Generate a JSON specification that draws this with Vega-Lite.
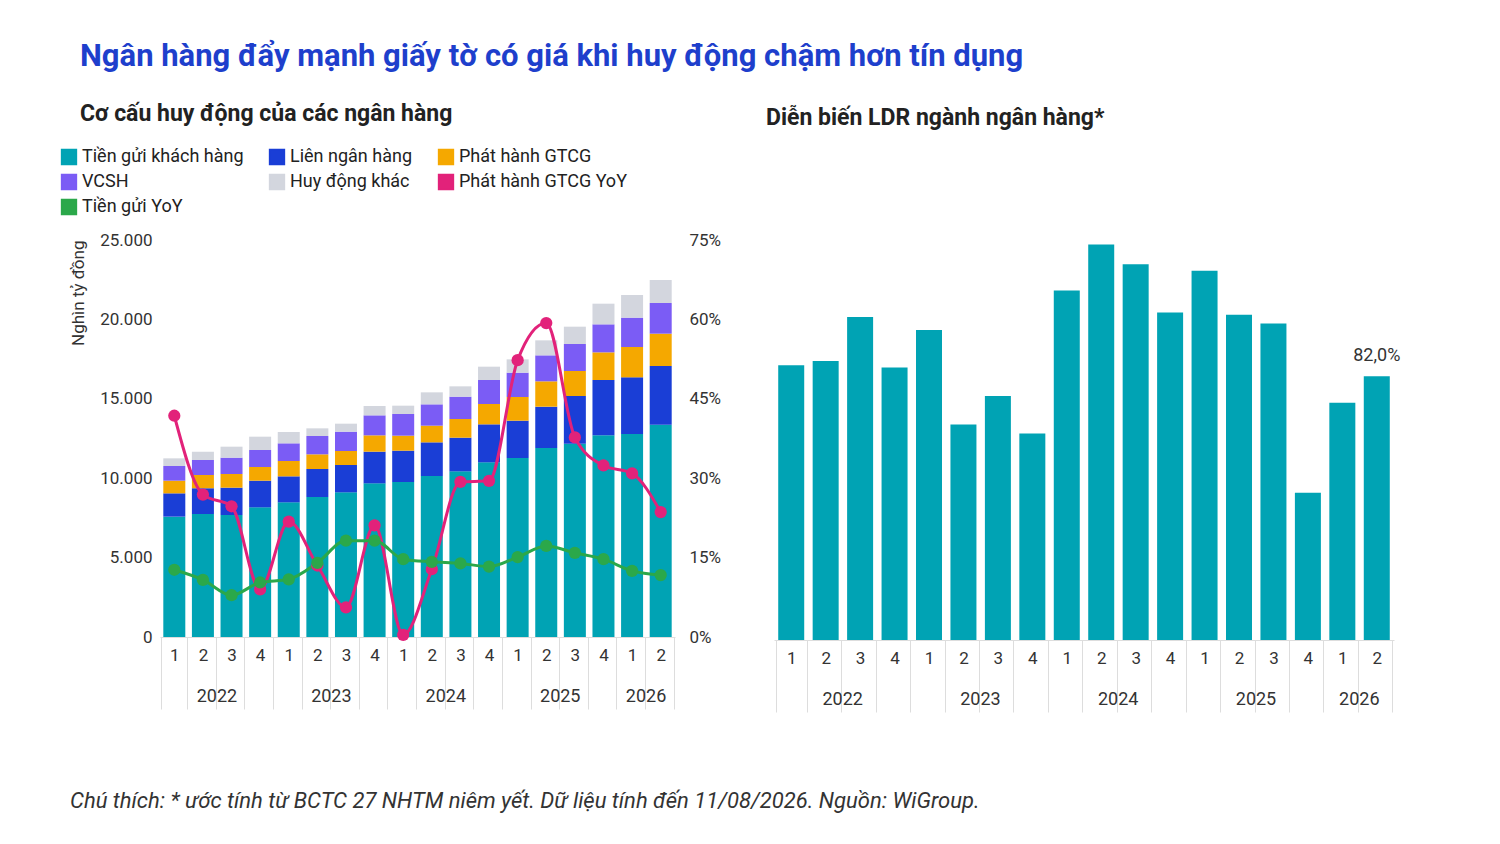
{
"$schema":"https://vega.github.io/schema/vega-lite/v6.json",
"background":"white",
"padding":{"left":60,"top":41,"right":10,"bottom":5},
"config":{"font":"Roboto","view":{"stroke":null},"axis":{"labelFont":"Roboto","titleFont":"Roboto","labelColor":"#333","labelFontSize":17,"grid":false},"legend":{"labelFont":"Roboto"}},
"title":{"text":"Ngân hàng đẩy mạnh giấy tờ có giá khi huy động chậm hơn tín dụng","anchor":"start","fontSize":31,"fontWeight":"bold","color":"#1E3FCC","offset":30,"dx":20},
"datasets":{
"stack":[
{"q":"2022-1","s":"Tiền gửi khách hàng","v":7578},{"q":"2022-1","s":"Liên ngân hàng","v":1469},{"q":"2022-1","s":"Phát hành GTCG","v":797},{"q":"2022-1","s":"VCSH","v":924},{"q":"2022-1","s":"Huy động khác","v":483},
{"q":"2022-2","s":"Tiền gửi khách hàng","v":7745},{"q":"2022-2","s":"Liên ngân hàng","v":1617},{"q":"2022-2","s":"Phát hành GTCG","v":839},{"q":"2022-2","s":"VCSH","v":945},{"q":"2022-2","s":"Huy động khác","v":524},
{"q":"2022-3","s":"Tiền gửi khách hàng","v":7682},{"q":"2022-3","s":"Liên ngân hàng","v":1722},{"q":"2022-3","s":"Phát hành GTCG","v":860},{"q":"2022-3","s":"VCSH","v":1029},{"q":"2022-3","s":"Huy động khác","v":692},
{"q":"2022-4","s":"Tiền gửi khách hàng","v":8165},{"q":"2022-4","s":"Liên ngân hàng","v":1679},{"q":"2022-4","s":"Phát hành GTCG","v":861},{"q":"2022-4","s":"VCSH","v":1070},{"q":"2022-4","s":"Huy động khác","v":840},
{"q":"2023-1","s":"Tiền gửi khách hàng","v":8480},{"q":"2023-1","s":"Liên ngân hàng","v":1637},{"q":"2023-1","s":"Phát hành GTCG","v":966},{"q":"2023-1","s":"VCSH","v":1113},{"q":"2023-1","s":"Huy động khác","v":713},
{"q":"2023-2","s":"Tiền gửi khách hàng","v":8816},{"q":"2023-2","s":"Liên ngân hàng","v":1763},{"q":"2023-2","s":"Phát hành GTCG","v":924},{"q":"2023-2","s":"VCSH","v":1154},{"q":"2023-2","s":"Huy động khác","v":483},
{"q":"2023-3","s":"Tiền gửi khách hàng","v":9110},{"q":"2023-3","s":"Liên ngân hàng","v":1721},{"q":"2023-3","s":"Phát hành GTCG","v":882},{"q":"2023-3","s":"VCSH","v":1217},{"q":"2023-3","s":"Huy động khác","v":504},
{"q":"2023-4","s":"Tiền gửi khách hàng","v":9676},{"q":"2023-4","s":"Liên ngân hàng","v":1995},{"q":"2023-4","s":"Phát hành GTCG","v":1028},{"q":"2023-4","s":"VCSH","v":1259},{"q":"2023-4","s":"Huy động khác","v":588},
{"q":"2024-1","s":"Tiền gửi khách hàng","v":9760},{"q":"2024-1","s":"Liên ngân hàng","v":1974},{"q":"2024-1","s":"Phát hành GTCG","v":944},{"q":"2024-1","s":"VCSH","v":1364},{"q":"2024-1","s":"Huy động khác","v":525},
{"q":"2024-2","s":"Tiền gửi khách hàng","v":10138},{"q":"2024-2","s":"Liên ngân hàng","v":2120},{"q":"2024-2","s":"Phát hành GTCG","v":1050},{"q":"2024-2","s":"VCSH","v":1343},{"q":"2024-2","s":"Huy động khác","v":756},
{"q":"2024-3","s":"Tiền gửi khách hàng","v":10432},{"q":"2024-3","s":"Liên ngân hàng","v":2120},{"q":"2024-3","s":"Phát hành GTCG","v":1176},{"q":"2024-3","s":"VCSH","v":1406},{"q":"2024-3","s":"Huy động khác","v":651},
{"q":"2024-4","s":"Tiền gửi khách hàng","v":10999},{"q":"2024-4","s":"Liên ngân hàng","v":2393},{"q":"2024-4","s":"Phát hành GTCG","v":1280},{"q":"2024-4","s":"VCSH","v":1511},{"q":"2024-4","s":"Huy động khác","v":840},
{"q":"2025-1","s":"Tiền gửi khách hàng","v":11272},{"q":"2025-1","s":"Liên ngân hàng","v":2351},{"q":"2025-1","s":"Phát hành GTCG","v":1490},{"q":"2025-1","s":"VCSH","v":1532},{"q":"2025-1","s":"Huy động khác","v":840},
{"q":"2025-2","s":"Tiền gửi khách hàng","v":11901},{"q":"2025-2","s":"Liên ngân hàng","v":2603},{"q":"2025-2","s":"Phát hành GTCG","v":1596},{"q":"2025-2","s":"VCSH","v":1636},{"q":"2025-2","s":"Huy động khác","v":945},
{"q":"2025-3","s":"Tiền gửi khách hàng","v":12174},{"q":"2025-3","s":"Liên ngân hàng","v":3002},{"q":"2025-3","s":"Phát hành GTCG","v":1574},{"q":"2025-3","s":"VCSH","v":1700},{"q":"2025-3","s":"Huy động khác","v":1092},
{"q":"2025-4","s":"Tiền gửi khách hàng","v":12699},{"q":"2025-4","s":"Liên ngân hàng","v":3484},{"q":"2025-4","s":"Phát hành GTCG","v":1742},{"q":"2025-4","s":"VCSH","v":1764},{"q":"2025-4","s":"Huy động khác","v":1301},
{"q":"2026-1","s":"Tiền gửi khách hàng","v":12783},{"q":"2026-1","s":"Liên ngân hàng","v":3568},{"q":"2026-1","s":"Phát hành GTCG","v":1910},{"q":"2026-1","s":"VCSH","v":1848},{"q":"2026-1","s":"Huy động khác","v":1427},
{"q":"2026-2","s":"Tiền gửi khách hàng","v":13371},{"q":"2026-2","s":"Liên ngân hàng","v":3694},{"q":"2026-2","s":"Phát hành GTCG","v":2036},{"q":"2026-2","s":"VCSH","v":1931},{"q":"2026-2","s":"Huy động khác","v":1449}
],
"yoy":[
{"q":"2022-1","s":"Phát hành GTCG YoY","v":41.8},{"q":"2022-2","s":"Phát hành GTCG YoY","v":26.9},{"q":"2022-3","s":"Phát hành GTCG YoY","v":24.7},{"q":"2022-4","s":"Phát hành GTCG YoY","v":9.0},{"q":"2023-1","s":"Phát hành GTCG YoY","v":21.8},{"q":"2023-2","s":"Phát hành GTCG YoY","v":13.5},{"q":"2023-3","s":"Phát hành GTCG YoY","v":5.6},{"q":"2023-4","s":"Phát hành GTCG YoY","v":21.1},{"q":"2024-1","s":"Phát hành GTCG YoY","v":0.4},{"q":"2024-2","s":"Phát hành GTCG YoY","v":12.8},{"q":"2024-3","s":"Phát hành GTCG YoY","v":29.3},{"q":"2024-4","s":"Phát hành GTCG YoY","v":29.5},{"q":"2025-1","s":"Phát hành GTCG YoY","v":52.3},{"q":"2025-2","s":"Phát hành GTCG YoY","v":59.3},{"q":"2025-3","s":"Phát hành GTCG YoY","v":37.7},{"q":"2025-4","s":"Phát hành GTCG YoY","v":32.4},{"q":"2026-1","s":"Phát hành GTCG YoY","v":30.9},{"q":"2026-2","s":"Phát hành GTCG YoY","v":23.6},
{"q":"2022-1","s":"Tiền gửi YoY","v":12.7},{"q":"2022-2","s":"Tiền gửi YoY","v":10.8},{"q":"2022-3","s":"Tiền gửi YoY","v":7.9},{"q":"2022-4","s":"Tiền gửi YoY","v":10.3},{"q":"2023-1","s":"Tiền gửi YoY","v":10.9},{"q":"2023-2","s":"Tiền gửi YoY","v":14.0},{"q":"2023-3","s":"Tiền gửi YoY","v":18.2},{"q":"2023-4","s":"Tiền gửi YoY","v":18.2},{"q":"2024-1","s":"Tiền gửi YoY","v":14.7},{"q":"2024-2","s":"Tiền gửi YoY","v":14.2},{"q":"2024-3","s":"Tiền gửi YoY","v":13.9},{"q":"2024-4","s":"Tiền gửi YoY","v":13.3},{"q":"2025-1","s":"Tiền gửi YoY","v":15.1},{"q":"2025-2","s":"Tiền gửi YoY","v":17.2},{"q":"2025-3","s":"Tiền gửi YoY","v":15.9},{"q":"2025-4","s":"Tiền gửi YoY","v":14.7},{"q":"2026-1","s":"Tiền gửi YoY","v":12.5},{"q":"2026-2","s":"Tiền gửi YoY","v":11.7}
],
"ldr":[
{"q":"2022-1","v":82.5},{"q":"2022-2","v":82.7},{"q":"2022-3","v":84.7},{"q":"2022-4","v":82.4},{"q":"2023-1","v":84.1},{"q":"2023-2","v":79.8},{"q":"2023-3","v":81.1},{"q":"2023-4","v":79.4},{"q":"2024-1","v":85.9},{"q":"2024-2","v":88.0},{"q":"2024-3","v":87.1},{"q":"2024-4","v":84.9},{"q":"2025-1","v":86.8},{"q":"2025-2","v":84.8},{"q":"2025-3","v":84.4},{"q":"2025-4","v":76.7},{"q":"2026-1","v":80.8},{"q":"2026-2","v":82.0,"label":"82,0%"}
],
"years":[{"q":"2022-2","year":"2022"},{"q":"2023-2","year":"2023"},{"q":"2024-2","year":"2024"},{"q":"2025-2","year":"2025"},{"q":"2026-1","year":"2026"}]
},
"vconcat":[{
"title":{"text":"Chú thích: * ước tính từ BCTC 27 NHTM niêm yết. Dữ liệu tính đến 11/08/2026. Nguồn: WiGroup.","orient":"bottom","anchor":"start","fontSize":22,"fontStyle":"italic","fontWeight":"normal","color":"#333","offset":78,"dx":10},
"resolve":{"legend":{"color":"independent"}},
"hconcat":[
{
"title":{"text":"Cơ cấu huy động của các ngân hàng","anchor":"start","fontSize":23,"fontWeight":"bold","color":"#222","offset":22,"dx":20},
"width":515,"height":397,
"layer":[
{"data":{"name":"stack"},
"transform":[{"calculate":"indexof(['Tiền gửi khách hàng','Liên ngân hàng','Phát hành GTCG','VCSH','Huy động khác'], datum.s)","as":"o"}],
"mark":{"type":"bar","width":22},
"encoding":{
"x":{"field":"q","type":"ordinal","title":null,"axis":{"labelExpr":"split(datum.label,'-')[1]","labelAngle":0,"labelPadding":-62,"domainColor":"#ddd","tickColor":"#ddd","tickSize":72,"tickBand":"extent","ticks":true}},
"y":{"field":"v","type":"quantitative","stack":"zero","scale":{"domain":[0,25000]},"title":"Nghìn tỷ đồng","axis":{"values":[0,5000,10000,15000,20000,25000],"labelExpr":"replace(format(datum.value,','),',','.')","domain":false,"ticks":false,"labelPadding":8,"titleFontSize":17,"titleFontWeight":"normal","titleColor":"#333","titlePadding":12,"titleY":0,"titleAlign":"right"}},
"order":{"field":"o","type":"quantitative","sort":"ascending"},
"color":{"field":"s","type":"nominal","sort":["Tiền gửi khách hàng","Liên ngân hàng","Phát hành GTCG","VCSH","Huy động khác","Phát hành GTCG YoY","Tiền gửi YoY"],
"scale":{"domain":["Tiền gửi khách hàng","Liên ngân hàng","Phát hành GTCG","VCSH","Huy động khác","Phát hành GTCG YoY","Tiền gửi YoY"],"range":["#00A3B4","#1A3ED6","#F5A800","#7B5CF5","#D3D6DE","#E2227A","#2BA84A"]},
"legend":{"title":null,"orient":"none","legendX":-100,"legendY":-92,"direction":"horizontal","columns":3,"labelFontSize":18,"labelColor":"#222","symbolType":"square","symbolSize":220,"columnPadding":24,"rowPadding":7,"labelLimit":300,"clipHeight":18,"labelOffset":4}}
}},
{"data":{"name":"years"},"mark":{"type":"text","fontSize":18,"color":"#333","dx":14,"dy":60},
"encoding":{"x":{"field":"q","type":"ordinal"},"y":{"datum":0,"type":"quantitative","scale":{"domain":[0,1]},"axis":null},"text":{"field":"year"}}},
{"data":{"name":"yoy"},"mark":{"type":"line","interpolate":"monotone","strokeWidth":3,"point":{"size":150,"filled":true}},
"encoding":{"x":{"field":"q","type":"ordinal"},
"y":{"field":"v","type":"quantitative","scale":{"domain":[0,75]},"title":null,"axis":{"orient":"right","values":[0,15,30,45,60,75],"labelExpr":"datum.value+'%'","domain":false,"ticks":false,"labelPadding":14}},
"color":{"field":"s","type":"nominal"}}}
],
"resolve":{"scale":{"y":"independent"}}
},
{
"title":{"text":"Diễn biến LDR ngành ngân hàng*","anchor":"start","fontSize":23,"fontWeight":"bold","color":"#222","offset":110,"dx":-8},
"width":620,"height":400,
"layer":[
{"data":{"name":"ldr"},"mark":{"type":"bar","width":26,"color":"#00A3B4","clip":true},
"encoding":{"x":{"field":"q","type":"ordinal","title":null,"axis":{"labelExpr":"split(datum.label,'-')[1]","labelAngle":0,"labelPadding":-62,"domainColor":"#ddd","tickColor":"#ddd","tickSize":72,"tickBand":"extent"}},
"y":{"field":"v","type":"quantitative","scale":{"domain":[70,88.2],"zero":false,"nice":false},"axis":null}}},
{"data":{"name":"ldr"},"transform":[{"filter":"datum.label"}],"mark":{"type":"text","fontSize":18,"color":"#333","dy":-20},
"encoding":{"x":{"field":"q","type":"ordinal"},"y":{"field":"v","type":"quantitative"},"text":{"field":"label"}}},
{"data":{"name":"years"},"mark":{"type":"text","fontSize":18,"color":"#333","dx":17,"dy":60},
"encoding":{"x":{"field":"q","type":"ordinal"},"y":{"datum":70},"text":{"field":"year"}}}
]
}
],
"spacing":45
}]
}
